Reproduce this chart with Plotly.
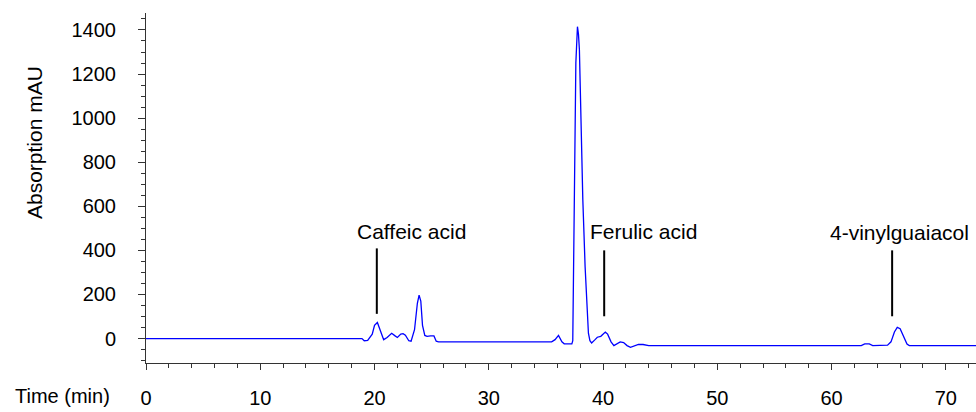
import plotly.graph_objects as go

# Chromatogram trace (time in min, absorption in mAU)
time_min = [0, 18.9, 19.1, 19.4, 19.8, 20.0, 20.25, 20.5, 20.8, 21.1, 21.5, 21.8, 22.0,
            22.3, 22.5, 22.7, 23.0, 23.2, 23.5, 23.75, 23.9, 24.05, 24.2, 24.4, 24.6,
            24.9, 25.2, 25.4, 25.6, 35.5, 35.8, 36.1, 36.4, 36.6, 37.27, 37.35, 37.41,
            37.5, 37.62, 37.76, 37.85, 37.93, 38.0, 38.08, 38.15, 38.23, 38.43, 38.6,
            38.72, 38.85, 39.0, 39.3, 39.5, 39.8, 40.2, 40.4, 40.7, 40.95, 41.2, 41.5,
            41.8, 42.1, 42.4, 42.6, 42.9, 43.1, 43.5, 43.8, 44.0, 62.6, 62.9, 63.3,
            63.6, 64.9, 65.2, 65.5, 65.75, 66.0, 66.3, 66.6, 66.8, 72.64]
absorption = [0, 0, -10, -8, 20, 60, 73, 35, -5, 5, 24, 12, 5,
              20, 22, 15, -10, -12, 40, 160, 197, 170, 60, 14, 10,
              12, 12, -12, -15, -15, -5, 14, -15, -24, -24, -10, 220,
              630, 1250, 1415, 1380, 1310, 1140, 1000, 850, 630, 326, 120,
              24, -10, -20, -5, 6, 10, 29, 20, -15, -32, -25, -15,
              -18, -32, -40, -36, -30, -27, -27, -29, -32, -32, -24, -24,
              -32, -30, -15, 30, 51, 45, 10, -25, -32, -32]

# Peak labels
peak_names = ["Caffeic acid", "Ferulic acid", "4-vinylguaiacol"]
peak_line_time = [20.2, 40.1, 65.3]
peak_line_low = [112, 101, 101]
peak_line_high = [409, 400, 400]
peak_text_time = [23.27, 43.5, 65.95]
peak_text_level = [484, 484, 480]

y_ticks = [0, 200, 400, 600, 800, 1000, 1200, 1400]
x_ticks = [0, 10, 20, 30, 40, 50, 60, 70]

FONT = "Liberation Sans, Arial, sans-serif"

fig = go.Figure()
fig.add_trace(go.Scatter(x=time_min, y=absorption, mode="lines",
                         line=dict(color="#0000ff", width=1.3), showlegend=False,
                         hoverinfo="skip"))

for t, lo, hi in zip(peak_line_time, peak_line_low, peak_line_high):
    fig.add_shape(type="line", xref="x", yref="y", x0=t, x1=t, y0=lo, y1=hi,
                  line=dict(color="black", width=2))

for name, t, v in zip(peak_names, peak_text_time, peak_text_level):
    fig.add_annotation(x=t, y=v, xref="x", yref="y", text=name, showarrow=False,
                       font=dict(family=FONT, size=21, color="black"),
                       xanchor="center", yanchor="middle")

fig.add_annotation(x=-0.16, y=-0.094, xref="paper", yref="paper", text="Time (min)",
                   showarrow=False, xanchor="left", yanchor="middle",
                   font=dict(family=FONT, size=20, color="black"))
fig.add_annotation(x=-0.1337, y=0.6286, xref="paper", yref="paper", text="Absorption mAU",
                   showarrow=False, xanchor="center", yanchor="middle", textangle=-90,
                   font=dict(family=FONT, size=21, color="black"))

fig.update_layout(
    width=976, height=412,
    margin=dict(l=146, r=0, t=13, b=49),
    plot_bgcolor="white", paper_bgcolor="white",
    font=dict(family=FONT, size=20, color="black"),
)
fig.update_xaxes(range=[0, 72.64], tickvals=x_ticks, ticks="outside", ticklen=6,
                 tickcolor="#333", showline=True, linecolor="#333", linewidth=1,
                 showgrid=False, zeroline=False, ticklabelstandoff=11,
                 minor=dict(dtick=2, tick0=0, ticks="outside", ticklen=3.5,
                            tickcolor="#333", showgrid=False),
                 tickfont=dict(family=FONT, size=20, color="black"))
fig.update_yaxes(range=[-111, 1477], tickvals=y_ticks, ticks="outside", ticklen=7,
                 tickcolor="#333", showline=True, linecolor="#333", linewidth=1,
                 showgrid=False, zeroline=False, ticklabelstandoff=18,
                 minor=dict(dtick=50, tick0=0, ticks="outside", ticklen=4,
                            tickcolor="#333", showgrid=False),
                 tickfont=dict(family=FONT, size=20, color="black"))

fig.write_html("out.html", config={"displayModeBar": False},
               post_script="document.body.style.margin='0';document.body.style.overflow='hidden';")
